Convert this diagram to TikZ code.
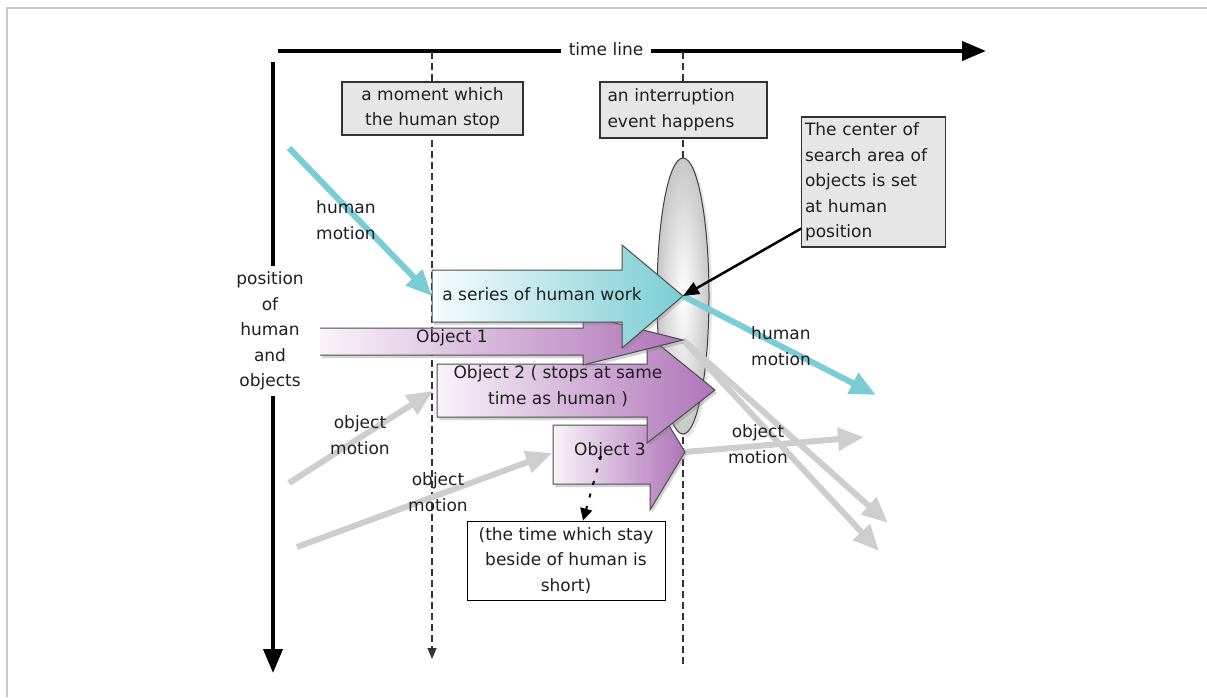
\documentclass[tikz,border=0pt]{standalone}
\usepackage{fontspec}
\setmainfont{DejaVu Sans}
\usepackage{tikz}
\usetikzlibrary{arrows.meta,positioning,shapes.geometric,shadows}

\definecolor{humancyan}{RGB}{122,205,213}
\definecolor{objpurple}{RGB}{174,116,184}
\definecolor{objlight}{RGB}{249,243,249}
\definecolor{boxgrey}{RGB}{230,230,230}
\definecolor{motiongrey}{RGB}{206,206,206}
\definecolor{framegrey}{RGB}{200,200,200}

\tikzset{
  notebox/.style={draw=black!80, fill=boxgrey, line width=1.1pt},
  plainbox/.style={draw=black, fill=white, line width=1pt},
  axis/.style={line width=4pt, -{Triangle[length=24pt,width=19pt]}},
  timemark/.style={black!80, line width=1.2pt, dash pattern=on 7pt off 4pt},
  humanmove/.style={humancyan, line width=6pt, -{Triangle[length=26pt,width=22pt]}},
  objmove/.style={motiongrey, line width=6pt, -{Triangle[length=26pt,width=22pt]}},
  workarrow/.style={draw=black!70, line width=1pt, left color=humancyan!6, right color=humancyan,
    drop shadow={opacity=0.3, shadow xshift=2pt, shadow yshift=-3pt}},
  objarrow/.style={draw=black!70, line width=1pt, left color=objlight, right color=objpurple,
    drop shadow={opacity=0.35, shadow xshift=2pt, shadow yshift=-3pt}}
}

\begin{document}
\begin{tikzpicture}[x=1pt,y=-1pt,font=\fontsize{17}{25.5}\selectfont,text=black!88]
  \useasboundingbox (0,0) rectangle (1207,697);
  \draw[framegrey, line width=2pt] (7,697) -- (7,8) -- (1207,8);

  % axes
  \coordinate (tstart) at (278,51);
  \coordinate (tend) at (986,51);
  \coordinate (pstart) at (273,62);
  \coordinate (pend) at (273,673);
  \draw[axis] (tstart) -- (tend);
  \draw[axis] (pstart) -- (pend);
  \node[fill=white, inner xsep=8pt] (timeline) at (606,49) {time line};
  \node[fill=white, align=center, inner ysep=6pt] (position) at (270,331) {position\\of\\human\\and\\objects};

  % the two moments
  \coordinate (stoptop) at (432,52);
  \coordinate (stopend) at (432,659);
  \coordinate (eventtop) at (683,52);
  \coordinate (eventend) at (683,668);
  \draw[timemark, -{Triangle[length=11pt,width=9pt]}] (stoptop) -- (stopend);
  \draw[timemark] (eventtop) -- (eventend);
  \node[notebox, minimum width=181pt, minimum height=53pt, align=center] (stop) at (432.5,108.5) {a moment which\\the human stop};
  \node[notebox, minimum width=167pt, minimum height=56pt, text width=152pt, align=left] (event) at (683.5,110) {an interruption\\event happens};
  \node[notebox, text width=137pt, minimum height=130pt, align=left] (centre) at (873.5,182) {The center of\\search area of\\objects is set\\at human\\position};

  % search area
  \node[ellipse, draw=black!75, line width=1pt, inner color=white, outer color=black!22,
    minimum width=52pt, minimum height=276pt, inner sep=0pt,
    drop shadow={opacity=0.2, shadow xshift=3pt, shadow yshift=-3pt}] (area) at (683,296) {};

  % object motion
  \coordinate (om1start) at (289,483);
  \coordinate (obj2tail) at (433,391);
  \coordinate (om2start) at (297,547);
  \coordinate (obj3tail) at (552,453);
  \coordinate (obj3tip) at (685,452);
  \coordinate (om3end) at (864,437);
  \coordinate (obj1tip) at (683,340);
  \coordinate (om4end) at (888,523);
  \coordinate (om5end) at (879,551);
  \draw[objmove] (om1start) -- (obj2tail);
  \draw[objmove] (om2start) -- (obj3tail);
  \draw[objmove] (obj3tip) -- (om3end);
  \draw[objmove] (obj1tip) -- (om4end);
  \draw[objmove] (obj1tip) -- (om5end);

  % objects and human work
  \path[objarrow] (553,425) -- (650,425) -- (650,394) -- (obj3tip) -- (650,510) -- (650,484) -- (553,484) -- cycle;
  \path[objarrow] (437,364) -- (647,364) -- (647,335) -- (715,390) -- (647,443) -- (647,417) -- (437,417) -- cycle;
  \path[objarrow, draw=none] (320,328) -- (583,328) -- (583,315) -- (obj1tip) -- (583,365) -- (583,355) -- (320,355) -- cycle;
  \draw[black!70, line width=1pt] (320,328) -- (583,328) -- (583,315) -- (obj1tip) -- (583,365) -- (583,355) -- (320,355);
  \coordinate (worktail) at (432,296);
  \coordinate (worktip) at (683,296);
  \path[workarrow] (432,270) -- (622,270) -- (622,245) -- (worktip) -- (622,348) -- (622,322) -- (432,322) -- cycle;
  \node (obj3) at (610,451) {Object 3};
  \node[align=center] (obj2) at (558,386) {Object 2 ( stops at same\\time as human )};
  \node (obj1) at (452,338) {Object 1};
  \node (work) at (542,294) {a series of human work};

  % human motion
  \coordinate (hstart) at (289,148);
  \coordinate (hend) at (876,395);
  \draw[humanmove] (hstart) -- (worktail);
  \draw[humanmove] (worktip) -- (hend);
  \node[align=left] (hm1) at (346,220) {human\\motion};
  \node[align=left] (hm2) at (781,346) {human\\motion};
  \node[align=center] (om1) at (360,435) {object\\motion};
  \node[align=center] (om2) at (438,492) {object\\motion};
  \node[align=center] (om3) at (758,444) {object\\motion};

  \draw[line width=2.5pt, -{Triangle[length=16pt,width=13pt]}] ([yshift=19pt]centre.south west) -- (worktip);

  % stay time
  \node[plainbox, align=center, minimum width=198pt, minimum height=79pt] (short) at (566,560.5) {(the time which stay\\beside of human is\\short)};
  \coordinate (o3mark) at (601,456);
  \draw[line width=2pt, dash pattern=on 4pt off 9pt, -{Triangle[length=12pt,width=12pt]}] (o3mark) -- ([xshift=17pt]short.north);
\end{tikzpicture}
\end{document}
